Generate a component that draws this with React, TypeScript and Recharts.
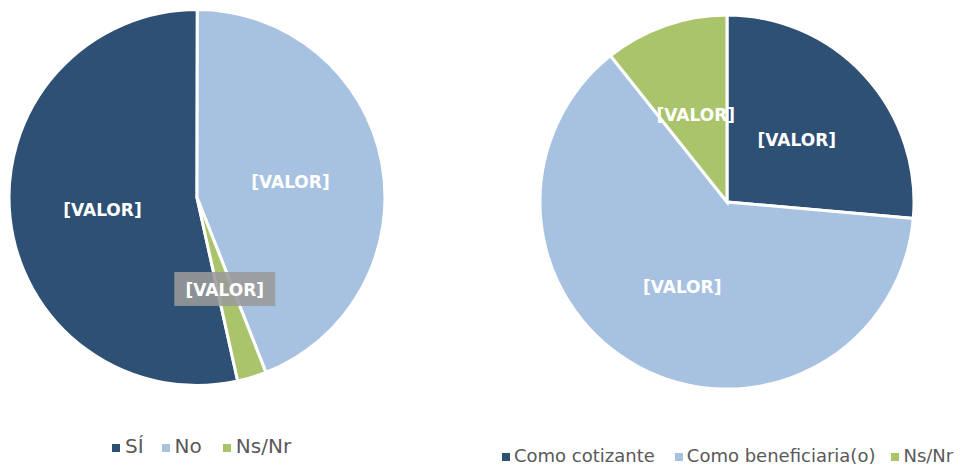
import { Cell, Legend, Pie, PieChart } from 'recharts';

const leftCategories = ['SÍ', 'No', 'Ns/Nr'];
const leftValues = [53.5, 44, 2.5];
const rightCategories = ['Como cotizante', 'Como beneficiaria(o)', 'Ns/Nr'];
const rightValues = [26.4, 62.9, 10.7];
const sliceColors = ['#2E5074', '#A7C1E0', '#AAC46C'];
const labelText = '[VALOR]';

const leftData = leftCategories.map((name, i) => ({ name, value: leftValues[i] }));
const rightData = rightCategories.map((name, i) => ({ name, value: rightValues[i] }));

const RAD = Math.PI / 180;

function makeLabel(radius: number, boxedIndex: number | null) {
  return (props: any) => {
    const { cx, cy, midAngle, index } = props;
    const r = radius * 0.51;
    const x = cx + r * Math.cos(-midAngle * RAD);
    const y = cy + r * Math.sin(-midAngle * RAD);
    return (
      <g>
        {index === boxedIndex && (
          <rect x={x - 50.5} y={y - 16.5} width={101} height={34} fill="#9A9A9A" fillOpacity={0.88} />
        )}
        <text
          x={x}
          y={y + 2}
          fill="#fff"
          textAnchor="middle"
          dominantBaseline="central"
          fontFamily="DejaVu Sans"
          fontWeight="bold"
          fontSize={17}
        >
          {labelText}
        </text>
      </g>
    );
  };
}

// gaps after each legend entry
function LegendRow({ names, gaps, iconGap }: { names: string[]; gaps: number[]; iconGap: number }) {
  return (
    <ul style={{ margin: 0, padding: 0, listStyle: 'none', whiteSpace: 'nowrap' }}>
      {names.map((n, i) => (
        <li key={n} style={{ display: 'inline-block', marginRight: gaps[i] }}>
          <svg width={8} height={8} style={{ verticalAlign: 'middle', marginRight: iconGap }}>
            <rect width={8} height={8} fill={sliceColors[i]} />
          </svg>
          <span style={{ color: '#595959' }}>{n}</span>
        </li>
      ))}
    </ul>
  );
}

export default function App() {
  return (
    <div style={{ position: 'absolute', left: 0, top: 0, width: 961, height: 465, background: '#fff' }}>
      <div style={{ position: 'absolute', left: 0, top: 0 }}>
        <PieChart width={400} height={465} margin={{ top: 0, right: 0, bottom: 0, left: 0 }}>
          <Pie
            data={leftData}
            dataKey="value"
            nameKey="name"
            cx={197}
            cy={197.5}
            outerRadius={188}
            startAngle={90 - 167.5}
            endAngle={90 - 167.5 - 360}
            stroke="#fff"
            strokeWidth={3}
            label={makeLabel(186.5, 2)}
            labelLine={false}
            isAnimationActive={false}
          >
            {leftData.map((d, i) => (
              <Cell key={d.name} fill={sliceColors[i]} />
            ))}
          </Pie>
          <Legend
            content={() => <LegendRow names={leftCategories} gaps={[18, 21, 0]} iconGap={5} />}
            wrapperStyle={{
              position: 'absolute',
              left: 112,
              top: 434,
              width: 'auto',
              fontFamily: 'DejaVu Sans',
              fontSize: 20,
              lineHeight: '24px',
            }}
          />
        </PieChart>
      </div>
      <div style={{ position: 'absolute', left: 480, top: 0 }}>
        <PieChart width={481} height={465} margin={{ top: 0, right: 0, bottom: 0, left: 0 }}>
          <Pie
            data={rightData}
            dataKey="value"
            nameKey="name"
            cx={247}
            cy={202}
            outerRadius={187}
            startAngle={90}
            endAngle={-270}
            stroke="#fff"
            strokeWidth={3}
            label={makeLabel(185.5, null)}
            labelLine={false}
            isAnimationActive={false}
          >
            {rightData.map((d, i) => (
              <Cell key={d.name} fill={sliceColors[i]} />
            ))}
          </Pie>
          <Legend
            content={() => <LegendRow names={rightCategories} gaps={[20, 16, 0]} iconGap={4} />}
            wrapperStyle={{
              position: 'absolute',
              left: 22,
              top: 444,
              width: 'auto',
              fontFamily: 'DejaVu Sans',
              fontSize: 18,
              lineHeight: '23px',
            }}
          />
        </PieChart>
      </div>
    </div>
  );
}
